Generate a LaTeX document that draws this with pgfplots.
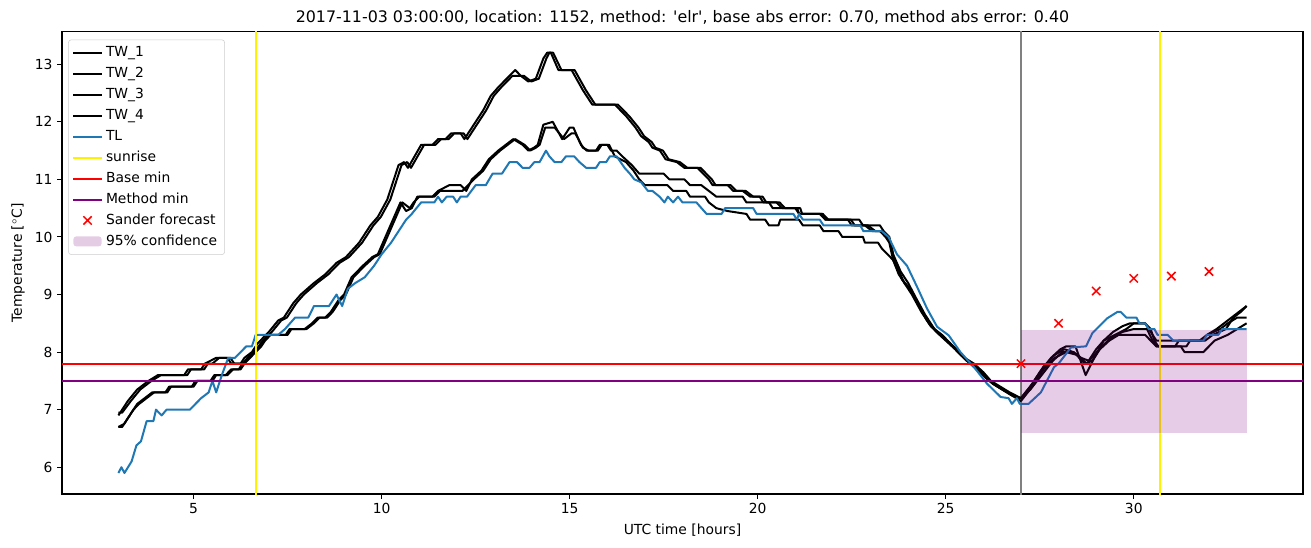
\documentclass[border=0pt]{standalone}
\usepackage{fontspec}
\setmainfont{DejaVu Sans}
\usepackage{pgfplots}
\pgfplotsset{compat=1.18}
\definecolor{tlblue}{RGB}{31,119,180}
\definecolor{mpurple}{RGB}{128,0,128}
\definecolor{mgray}{RGB}{128,128,128}
\begin{document}
\begin{tikzpicture}
\useasboundingbox (-46.5pt,-39.75pt) rectangle (936.75pt,370.5pt);
\begin{axis}[
 scale only axis, width=930.75pt, height=346.7pt,
 xmin=1.5, xmax=34.5, ymin=5.535, ymax=13.565,
 xtick={5,10,15,20,25,30}, ytick={6,7,8,9,10,11,12,13},
 tick align=outside, tick pos=left, major tick length=3.6pt,
 every tick/.style={black, line width=0.8pt},
 axis line style={line width=0.8pt},
 /pgf/number format/assume math mode=true,
 ticklabel style={font=\fontsize{10.4}{12}\selectfont},
 label style={font=\fontsize{10.4}{12}\selectfont},
 xlabel={UTC time [hours]},
 ylabel={Temperature [$^\circ$C]},
 xlabel style={at={(axis description cs:0.5,-0.078)}, anchor=center},
 ylabel style={at={(axis description cs:-0.0355,0.5)}, anchor=center},
 title={2017-11-03 03:00:00, location: 1152, method: \textquotesingle elr\textquotesingle, base abs error: 0.70, method abs error: 0.40},
 title style={at={(axis description cs:0.5,1.0314)}, anchor=center, yshift=-6pt, font=\fontsize{11.9}{14}\selectfont},
 legend cell align=left,
 legend style={at={(0.005,0.983)}, anchor=north west, draw=black!20, rounded corners=2pt,
   fill=white, fill opacity=0.8, text opacity=1, font=\fontsize{10.4}{12}\selectfont,
   inner xsep=3pt, inner ysep=2pt,
   nodes={inner sep=2.6pt, text height=8pt, text depth=2.5pt}},
 legend image code/.code={\draw[mark repeat=2,mark phase=2,#1] plot coordinates {(0cm,0cm)(0.37cm,0cm)(0.74cm,0cm)};},
 every axis plot/.append style={line width=1.5pt, line join=round},
]
% gray vertical
\addplot[mgray, forget plot] coordinates {(27,5) (27,14)};
% TW_1
\addplot[black] coordinates {(3.0,6.9)(3.25,7.15)(3.5,7.35)(3.8,7.5)(4.05,7.6)(4.75,7.6)(4.85,7.7)(5.2,7.7)(5.3,7.8)(5.6,7.9)(5.9,7.9)(6.0,7.8)(6.25,7.8)(6.35,7.9)(6.55,8.0)(6.7,8.15)(7.0,8.35)(7.25,8.55)(7.4,8.6)(7.65,8.85)(7.85,9.0)(8.2,9.2)(8.5,9.35)(8.8,9.55)(9.05,9.65)(9.4,9.9)(9.7,10.2)(9.9,10.35)(10.15,10.65)(10.3,10.95)(10.45,11.25)(10.6,11.3)(10.7,11.2)(11.05,11.6)(11.35,11.6)(11.5,11.7)(11.7,11.7)(11.85,11.8)(12.1,11.8)(12.2,11.7)(12.4,11.9)(12.7,12.2)(12.9,12.45)(13.1,12.6)(13.4,12.8)(13.55,12.9)(13.7,12.8)(13.9,12.7)(14.1,12.75)(14.3,13.1)(14.4,13.2)(14.5,13.2)(14.7,12.9)(15.05,12.9)(15.35,12.55)(15.6,12.3)(16.2,12.3)(16.35,12.2)(16.5,12.1)(16.75,11.9)(16.9,11.75)(17.1,11.65)(17.2,11.55)(17.4,11.5)(17.55,11.35)(17.85,11.3)(18.05,11.2)(18.4,11.2)(18.55,11.1)(18.7,11.0)(18.8,10.9)(19.2,10.9)(19.35,10.8)(19.6,10.8)(19.8,10.7)(20.05,10.7)(20.15,10.6)(20.5,10.6)(20.65,10.5)(21.05,10.5)(21.1,10.4)(21.65,10.4)(21.8,10.3)(22.4,10.3)(22.5,10.2)(22.85,10.2)(23.05,10.1)(23.25,10.1)(23.4,10.0)(23.5,9.9)(23.6,9.6)(23.85,9.25)(24.05,9.1)(24.25,8.85)(24.5,8.55)(24.7,8.4)(24.95,8.25)(25.2,8.1)(25.5,7.9)(25.75,7.8)(26.0,7.65)(26.2,7.5)(26.45,7.4)(26.7,7.3)(27.0,7.2)(27.25,7.4)(27.5,7.65)(27.8,7.9)(28.05,8.05)(28.2,8.1)(28.45,8.1)(28.72,7.6)(28.95,7.9)(29.2,8.2)(29.45,8.35)(29.7,8.45)(29.9,8.5)(30.3,8.5)(30.45,8.4)(30.55,8.2)(30.65,8.1)(31.25,8.1)(31.35,8.0)(31.85,8.0)(32.0,8.1)(32.15,8.2)(32.5,8.3)(32.75,8.4)(33.0,8.5)};
\addlegendentry{TW\_1}
% TW_2
\addplot[black] coordinates {(3.0,6.95)(3.1,6.95)(3.33,7.15)(3.58,7.35)(3.88,7.5)(4.13,7.6)(4.83,7.6)(4.93,7.7)(5.28,7.7)(5.38,7.8)(5.5,7.8)(5.68,7.9)(5.98,7.9)(6.08,7.8)(6.33,7.8)(6.43,7.9)(6.63,8.0)(6.78,8.15)(7.08,8.35)(7.33,8.55)(7.48,8.6)(7.73,8.85)(7.93,9.0)(8.28,9.2)(8.58,9.35)(8.88,9.55)(9.13,9.65)(9.48,9.9)(9.78,10.2)(9.98,10.35)(10.23,10.65)(10.38,10.95)(10.53,11.25)(10.68,11.3)(10.78,11.2)(11.13,11.6)(11.43,11.6)(11.58,11.7)(11.78,11.7)(11.93,11.8)(12.18,11.8)(12.28,11.7)(12.48,11.9)(12.78,12.2)(12.98,12.45)(13.18,12.6)(13.48,12.8)(13.78,12.8)(13.98,12.7)(14.18,12.75)(14.38,13.1)(14.46,13.2)(14.56,13.2)(14.78,12.9)(15.13,12.9)(15.43,12.55)(15.68,12.3)(16.28,12.3)(16.43,12.2)(16.58,12.1)(16.83,11.9)(16.98,11.75)(17.18,11.65)(17.28,11.55)(17.48,11.5)(17.63,11.35)(17.93,11.3)(18.13,11.2)(18.48,11.2)(18.63,11.1)(18.78,11.0)(18.88,10.9)(19.28,10.9)(19.43,10.8)(19.68,10.8)(19.88,10.7)(20.13,10.7)(20.23,10.6)(20.58,10.6)(20.73,10.5)(21.13,10.5)(21.18,10.4)(21.73,10.4)(21.88,10.3)(22.48,10.3)(22.58,10.2)(22.93,10.2)(23.13,10.1)(23.33,10.1)(23.45,10.0)(23.55,9.85)(23.65,9.55)(23.9,9.2)(24.1,9.05)(24.3,8.8)(24.55,8.5)(24.75,8.35)(25.0,8.2)(25.25,8.05)(25.55,7.85)(25.8,7.75)(26.05,7.6)(26.25,7.45)(26.5,7.35)(26.75,7.25)(27.0,7.2)(27.3,7.45)(27.6,7.75)(27.9,7.95)(28.15,8.05)(28.4,8.0)(28.6,7.9)(28.8,7.85)(29.0,8.05)(29.2,8.2)(29.5,8.3)(29.8,8.4)(30.0,8.5)(30.3,8.5)(30.5,8.3)(30.6,8.2)(31.8,8.2)(31.95,8.3)(32.2,8.4)(32.4,8.5)(32.6,8.6)(32.8,8.7)(33.0,8.8)};
\addlegendentry{TW\_2}
% TW_3
\addplot[black] coordinates {(3.0,6.7)(3.1,6.7)(3.35,6.95)(3.5,7.1)(3.7,7.2)(3.9,7.3)(4.25,7.3)(4.35,7.4)(4.95,7.4)(5.05,7.5)(5.45,7.5)(5.55,7.6)(5.85,7.6)(6.0,7.7)(6.2,7.7)(6.3,7.8)(6.45,7.9)(6.6,8.0)(6.75,8.1)(6.85,8.2)(7.0,8.3)(7.45,8.3)(7.55,8.4)(7.95,8.4)(8.15,8.5)(8.3,8.6)(8.5,8.6)(8.65,8.7)(8.85,8.9)(9.0,9.0)(9.2,9.3)(9.5,9.5)(9.75,9.65)(9.9,9.7)(10.1,10.0)(10.3,10.3)(10.5,10.6)(10.65,10.45)(10.8,10.5)(10.95,10.7)(11.35,10.7)(11.5,10.8)(11.8,10.9)(12.1,10.9)(12.25,10.8)(12.4,11.0)(12.65,11.15)(12.85,11.35)(13.1,11.5)(13.3,11.6)(13.5,11.7)(13.75,11.6)(13.9,11.5)(14.05,11.55)(14.15,11.6)(14.3,11.95)(14.55,12.0)(14.8,11.7)(15.0,11.9)(15.1,11.9)(15.3,11.6)(15.45,11.5)(15.7,11.5)(15.8,11.6)(16.0,11.6)(16.1,11.5)(16.25,11.5)(16.4,11.4)(16.65,11.25)(16.85,11.1)(17.5,11.1)(17.65,11.0)(18.05,11.0)(18.2,10.9)(18.5,10.9)(18.7,10.8)(18.9,10.7)(19.6,10.7)(19.7,10.6)(20.3,10.6)(20.4,10.5)(21.0,10.5)(21.1,10.4)(21.7,10.4)(21.8,10.3)(22.7,10.3)(22.8,10.2)(23.25,10.2)(23.35,10.1)(23.5,10.0)(23.6,9.7)(23.8,9.4)(24.0,9.2)(24.2,8.95)(24.45,8.65)(24.7,8.4)(24.9,8.3)(25.2,8.1)(25.5,7.9)(25.75,7.75)(26.0,7.6)(26.25,7.45)(26.5,7.35)(26.75,7.25)(27.0,7.15)(27.3,7.4)(27.6,7.7)(27.9,7.9)(28.2,8.0)(28.5,7.95)(28.75,7.8)(28.95,7.95)(29.15,8.1)(29.4,8.25)(29.7,8.35)(30.0,8.4)(30.35,8.4)(30.5,8.2)(30.6,8.1)(31.4,8.1)(31.5,8.2)(31.75,8.2)(31.95,8.3)(32.3,8.4)(32.5,8.5)(32.75,8.6)(33.0,8.6)};
\addlegendentry{TW\_3}
% TW_4
\addplot[black] coordinates {(3.0,6.7)(3.15,6.75)(3.4,7.0)(3.55,7.1)(3.75,7.2)(3.95,7.3)(4.3,7.3)(4.4,7.4)(5.0,7.4)(5.1,7.5)(5.5,7.5)(5.6,7.6)(5.9,7.6)(6.05,7.7)(6.25,7.7)(6.35,7.8)(6.5,7.9)(6.65,8.0)(6.8,8.1)(6.9,8.2)(7.05,8.3)(7.5,8.3)(7.6,8.4)(8.0,8.4)(8.2,8.5)(8.35,8.6)(8.55,8.6)(8.7,8.7)(8.9,8.9)(9.05,9.0)(9.25,9.3)(9.55,9.5)(9.8,9.65)(9.95,9.7)(10.15,10.0)(10.35,10.3)(10.55,10.6)(10.75,10.5)(10.85,10.6)(11.0,10.7)(11.4,10.7)(11.55,10.8)(12.15,10.8)(12.3,10.9)(12.45,11.0)(12.7,11.15)(12.9,11.35)(13.15,11.5)(13.35,11.6)(13.55,11.7)(13.8,11.6)(13.95,11.5)(14.1,11.55)(14.2,11.6)(14.35,11.9)(14.6,11.9)(14.85,11.7)(15.05,11.8)(15.15,11.8)(15.35,11.55)(15.5,11.5)(15.75,11.5)(15.85,11.6)(16.05,11.6)(16.2,11.4)(16.5,11.3)(16.7,11.15)(16.85,11.0)(17.0,10.9)(17.6,10.9)(17.75,10.8)(18.1,10.8)(18.2,10.7)(18.6,10.7)(18.7,10.6)(18.9,10.5)(19.2,10.45)(19.7,10.4)(19.8,10.3)(20.2,10.3)(20.3,10.2)(20.55,10.2)(20.6,10.3)(21.1,10.3)(21.2,10.2)(21.65,10.2)(21.75,10.1)(22.15,10.1)(22.25,10.0)(22.8,10.0)(22.85,9.9)(23.2,9.9)(23.3,9.8)(23.45,9.7)(23.6,9.6)(23.75,9.35)(23.9,9.2)(24.1,9.0)(24.35,8.7)(24.6,8.45)(24.85,8.3)(25.1,8.15)(25.4,7.95)(25.65,7.8)(25.9,7.65)(26.15,7.5)(26.4,7.4)(26.65,7.3)(26.9,7.2)(27.0,7.2)(27.25,7.35)(27.55,7.6)(27.85,7.85)(28.1,8.0)(28.4,8.0)(28.7,7.8)(28.9,7.85)(29.1,8.05)(29.35,8.2)(29.6,8.3)(30.3,8.3)(30.45,8.2)(30.6,8.1)(31.1,8.1)(31.2,8.2)(31.9,8.2)(32.1,8.3)(32.45,8.4)(32.65,8.6)(32.85,8.7)(33.0,8.8)};
\addlegendentry{TW\_4}
% TL
\addplot[tlblue] coordinates {(3.0,5.9)(3.08,6.0)(3.16,5.9)(3.35,6.1)(3.48,6.38)(3.6,6.45)(3.75,6.8)(3.93,6.8)(4.0,7.0)(4.15,6.9)(4.28,7.0)(4.9,7.0)(5.2,7.2)(5.4,7.3)(5.5,7.5)(5.6,7.3)(5.75,7.6)(5.92,7.9)(6.1,7.9)(6.4,8.1)(6.55,8.1)(6.65,8.3)(7.25,8.3)(7.43,8.4)(7.7,8.6)(8.05,8.6)(8.2,8.8)(8.6,8.8)(8.8,9.0)(8.95,8.8)(9.1,9.1)(9.3,9.2)(9.55,9.3)(9.8,9.5)(10.0,9.7)(10.25,9.9)(10.45,10.1)(10.65,10.3)(10.8,10.4)(11.05,10.6)(11.4,10.6)(11.5,10.7)(11.6,10.6)(11.73,10.7)(11.9,10.7)(12.0,10.6)(12.1,10.7)(12.27,10.7)(12.5,10.9)(12.77,10.9)(12.95,11.1)(13.2,11.1)(13.4,11.3)(13.6,11.3)(13.75,11.2)(13.93,11.2)(14.06,11.3)(14.2,11.3)(14.37,11.5)(14.46,11.4)(14.6,11.3)(14.78,11.3)(14.9,11.4)(15.12,11.4)(15.26,11.3)(15.44,11.2)(15.7,11.2)(15.8,11.3)(15.97,11.3)(16.07,11.4)(16.25,11.4)(16.46,11.2)(16.6,11.1)(16.72,11.0)(16.9,10.95)(17.08,10.8)(17.2,10.8)(17.39,10.7)(17.52,10.6)(17.61,10.7)(17.75,10.6)(17.88,10.7)(18.0,10.6)(18.37,10.6)(18.64,10.4)(19.04,10.4)(19.13,10.5)(19.88,10.5)(19.97,10.4)(20.95,10.4)(21.04,10.3)(21.1,10.4)(21.2,10.3)(21.65,10.3)(21.75,10.2)(22.73,10.2)(22.81,10.1)(23.3,10.1)(23.48,10.0)(23.7,9.7)(23.97,9.5)(24.24,9.13)(24.5,8.76)(24.77,8.44)(25.08,8.29)(25.39,8.0)(25.75,7.74)(26.1,7.45)(26.46,7.22)(26.67,7.2)(26.76,7.1)(26.89,7.2)(26.97,7.1)(27.2,7.1)(27.53,7.3)(27.88,7.74)(28.0,7.8)(28.33,8.08)(28.73,8.1)(28.9,8.33)(29.3,8.59)(29.57,8.7)(29.65,8.7)(29.8,8.6)(30.07,8.6)(30.15,8.5)(30.3,8.5)(30.4,8.4)(30.55,8.4)(30.63,8.3)(30.9,8.3)(31.05,8.2)(31.85,8.2)(31.95,8.3)(32.25,8.3)(32.35,8.4)(33.0,8.4)};
\addlegendentry{TL}
% sunrise
\addplot[yellow] coordinates {(6.65,5) (6.65,14)};
\addlegendentry{sunrise}
\addplot[yellow, forget plot] coordinates {(30.69,5) (30.69,14)};
% base min, method min
\addplot[red] coordinates {(1,7.8) (35,7.8)};
\addlegendentry{Base min}
\addplot[mpurple] coordinates {(1,7.5) (35,7.5)};
\addlegendentry{Method min}
% Sander forecast
\addplot[red, only marks, mark=x, mark size=4.4pt, mark options={line width=1.1pt}] coordinates {(27,7.8)(28,8.5)(29,9.06)(30,9.28)(31,9.32)(32,9.4)};
\addlegendentry{Sander forecast}
% confidence band
\addplot[draw=none, fill=mpurple, fill opacity=0.2, area legend,
  legend image code/.code={\fill[mpurple, fill opacity=0.2] (0cm,-0.13cm) rectangle (0.74cm,0.13cm);}]
  coordinates {(27,6.6)(27,8.38)(33,8.38)(33,6.6)} -- cycle;
\addlegendentry{95\% confidence}
\end{axis}
\end{tikzpicture}
\end{document}
